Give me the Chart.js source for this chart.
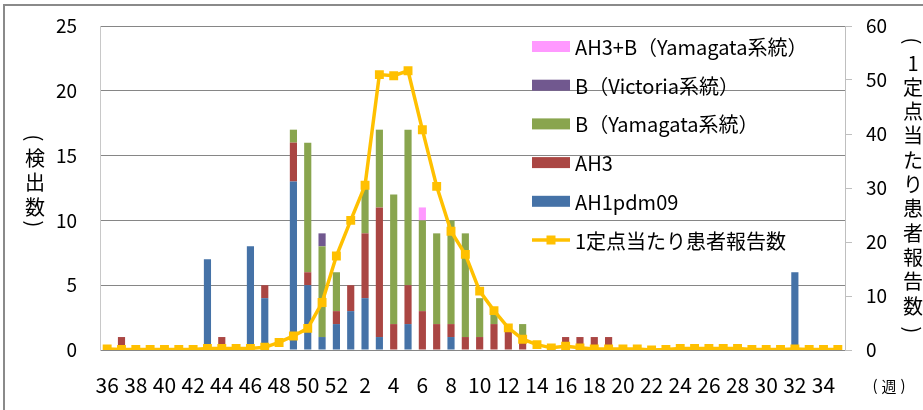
<!DOCTYPE html>
<html>
<head>
<meta charset="utf-8">
<script src="https://cdn.jsdelivr.net/npm/chart.js@4/dist/chart.umd.min.js"></script>
<style>
  html, body { margin: 0; padding: 0; background: #fff; }
  #wrap { width: 923px; height: 410px; position: relative; }
</style>
</head>
<body>
<div id="wrap"><canvas id="c"></canvas></div>
<script>
// Influenza detections by week (left axis) + reports per sentinel site (right axis)

const FONT = "'Noto Sans CJK JP', 'Noto Sans', sans-serif";

const weeks = [
  '36','37','38','39','40','41','42','43','44','45','46','47','48','49','50','51','52',
  '1','2','3','4','5','6','7','8','9','10','11','12','13','14','15','16','17','18','19','20',
  '21','22','23','24','25','26','27','28','29','30','31','32','33','34','35'
];

//                 36 37 38 39 40 41 42 43 44 45 46 47 48 49 50 51 52  1  2  3  4  5  6  7  8  9 10 11 12 13 14 15 16 17 18 19 20 21 22 23 24 25 26 27 28 29 30 31 32 33 34 35
const ah1pdm09 =  [ 0, 0, 0, 0, 0, 0, 0, 7, 0, 0, 8, 4, 0,13, 5, 1, 2, 3, 4, 1, 0, 2, 0, 0, 1, 0, 0, 0, 0, 0, 0, 0, 0, 0, 0, 0, 0, 0, 0, 0, 0, 0, 0, 0, 0, 0, 0, 0, 6, 0, 0, 0];
const ah3 =       [ 0, 1, 0, 0, 0, 0, 0, 0, 1, 0, 0, 1, 0, 3, 1, 0, 1, 2, 5,10, 2, 3, 3, 2, 1, 1, 1, 2, 2, 1, 0, 0, 1, 1, 1, 1, 0, 0, 0, 0, 0, 0, 0, 0, 0, 0, 0, 0, 0, 0, 0, 0];
const bYamagata = [ 0, 0, 0, 0, 0, 0, 0, 0, 0, 0, 0, 0, 0, 1,10, 7, 3, 0, 4, 6,10,12, 7, 7, 8, 8, 3, 1, 0, 1, 0, 0, 0, 0, 0, 0, 0, 0, 0, 0, 0, 0, 0, 0, 0, 0, 0, 0, 0, 0, 0, 0];
const bVictoria = [ 0, 0, 0, 0, 0, 0, 0, 0, 0, 0, 0, 0, 0, 0, 0, 1, 0, 0, 0, 0, 0, 0, 0, 0, 0, 0, 0, 0, 0, 0, 0, 0, 0, 0, 0, 0, 0, 0, 0, 0, 0, 0, 0, 0, 0, 0, 0, 0, 0, 0, 0, 0];
const ah3b =      [ 0, 0, 0, 0, 0, 0, 0, 0, 0, 0, 0, 0, 0, 0, 0, 0, 0, 0, 0, 0, 0, 0, 1, 0, 0, 0, 0, 0, 0, 0, 0, 0, 0, 0, 0, 0, 0, 0, 0, 0, 0, 0, 0, 0, 0, 0, 0, 0, 0, 0, 0, 0];

const perSite = [
  0.2, 0.1, 0.1, 0.1, 0.1, 0.1, 0.1, 0.3, 0.3, 0.3, 0.3, 0.5, 1.4, 2.6, 4.0, 8.8, 17.4,
  24.0, 30.5, 51.0, 50.8, 51.7, 40.8, 30.3, 22.0, 17.7, 10.9, 7.3, 4.1, 2.0, 1.0, 0.4,
  0.7, 0.4, 0.2, 0.2, 0.2, 0.2, 0.0, 0.1, 0.3, 0.3, 0.3, 0.3, 0.3, 0.1, 0.1, 0.1, 0.2,
  0.1, 0.1, 0.1
];

const leftTicks = [0, 5, 10, 15, 20, 25];
const rightTicks = [0, 10, 20, 30, 40, 50, 60];

const COLORS = {
  ah1: '#4572A7',
  ah3: '#AA4643',
  bYam: '#89A54E',
  bVic: '#71588F',
  ah3b: '#FF99FF',
  line: '#FFC000'
};

const bar = (label, data, color) => ({
  type: 'bar', label, data, backgroundColor: color, borderWidth: 0,
  yAxisID: 'y', stack: 's', order: 1,
  barPercentage: 0.5, categoryPercentage: 1.0
});

// legend order as in the picture (top to bottom)
const legendItems = [
  { label: 'AH3+B（Yamagata系統）', color: COLORS.ah3b },
  { label: 'B（Victoria系統）', color: COLORS.bVic },
  { label: 'B（Yamagata系統）', color: COLORS.bYam },
  { label: 'AH3', color: COLORS.ah3 },
  { label: 'AH1pdm09', color: COLORS.ah1 },
  { label: '1定点当たり患者報告数', color: COLORS.line, line: true }
];

// draws a paren turned on its side, like the vertical title in the picture
function sideParen(ctx, ch, x, y) {
  ctx.save();
  ctx.translate(x, y);
  ctx.rotate(Math.PI / 2);
  ctx.fillText(ch, 0, 0);
  ctx.restore();
}

// stacked characters between two sideways parens
function verticalTitle(ctx, text, x, y0, step, gapOpen, gapClose) {
  const chars = [...text];
  sideParen(ctx, '(', x, y0 - gapOpen);
  chars.forEach((ch, i) => ctx.fillText(ch, x, y0 + i * step));
  sideParen(ctx, ')', x, y0 + (chars.length - 1) * step + gapClose);
}

// keep the plot box where the picture has it (ticks padding would push it down)
const fixPad = s => { s.paddingTop = 11; s.paddingBottom = 11; };

const decor = {
  id: 'decor',
  beforeDraw(chart) {
    const ctx = chart.ctx;
    ctx.save();
    ctx.fillStyle = '#fff';
    ctx.fillRect(0, 0, chart.width, chart.height);
    ctx.strokeStyle = '#8a8a8a';
    ctx.lineWidth = 2;
    ctx.beginPath();
    ctx.moveTo(4, chart.height);
    ctx.lineTo(4, 5);
    ctx.lineTo(chart.width, 5);
    ctx.stroke();
    ctx.restore();
  },
  afterDraw(chart) {
    const ctx = chart.ctx;
    ctx.save();
    ctx.fillStyle = '#000';
    ctx.textAlign = 'center';
    ctx.textBaseline = 'middle';
    ctx.font = '20px ' + FONT;

    // vertical axis titles
    verticalTitle(ctx, '検出数', 35, 158, 24.5, 20, 17);
    verticalTitle(ctx, '1定点当たり患者報告数', 913, 63, 24.3, 22, 24);

    // week unit under the right axis
    ctx.font = '15px ' + FONT;
    ctx.fillText('(', 875, 385);
    ctx.fillText('週', 889, 386);
    ctx.fillText(')', 903, 385);

    // legend
    ctx.textAlign = 'left';
    ctx.font = '20px ' + FONT;
    legendItems.forEach((it, i) => {
      const y = 46.5 + i * 38.7;
      if (it.line) {
        ctx.strokeStyle = it.color;
        ctx.lineWidth = 3.5;
        ctx.beginPath();
        ctx.moveTo(532, y);
        ctx.lineTo(570, y);
        ctx.stroke();
        ctx.fillStyle = it.color;
        ctx.fillRect(546.5, y - 4.5, 9, 9);
      } else {
        ctx.fillStyle = it.color;
        ctx.fillRect(532, y - 5.5, 38, 11);
      }
      ctx.fillStyle = '#000';
      ctx.fillText(it.label, 575, y + 1);
    });
    ctx.restore();
  }
};

new Chart(document.getElementById('c'), {
  data: {
    labels: weeks,
    datasets: [
      {
        type: 'line', label: '1定点当たり患者報告数', data: perSite,
        yAxisID: 'y2', order: 0,
        borderColor: COLORS.line, backgroundColor: COLORS.line,
        borderWidth: 3.5, pointStyle: 'rect', pointRadius: 6.3,
        pointBorderWidth: 0, tension: 0
      },
      bar('AH1pdm09', ah1pdm09, COLORS.ah1),
      bar('AH3', ah3, COLORS.ah3),
      bar('B（Yamagata系統）', bYamagata, COLORS.bYam),
      bar('B（Victoria系統）', bVictoria, COLORS.bVic),
      bar('AH3+B（Yamagata系統）', ah3b, COLORS.ah3b)
    ]
  },
  options: {
    responsive: true,
    maintainAspectRatio: false,
    animation: false,
    layout: { padding: { top: 26, left: 0, right: 0, bottom: 0 } },
    plugins: { legend: { display: false }, tooltip: { enabled: false } },
    scales: {
      x: {
        stacked: true,
        afterFit: s => { s.height = 60; },
        grid: { display: false, drawTicks: false },
        border: { display: true, color: '#868686' },
        ticks: {
          autoSkip: false, maxRotation: 0, padding: 22,
          color: '#000', font: { family: FONT, size: 21 },
          callback: (v, i) => (i % 2 === 0 ? weeks[i] : '')
        }
      },
      y: {
        position: 'left', stacked: true, min: 0, max: 25,
        afterFit: s => { s.width = 100; fixPad(s); },
        afterBuildTicks: s => { s.ticks = leftTicks.map(v => ({ value: v })); },
        grid: { color: '#868686', drawTicks: false },
        border: { display: true, color: '#c8c8c8' },
        ticks: { padding: 23, color: '#000', font: { family: FONT, size: 19 } }
      },
      y2: {
        position: 'right', min: 0, max: 60,
        afterFit: s => { s.width = 78; fixPad(s); },
        afterBuildTicks: s => { s.ticks = rightTicks.map(v => ({ value: v })); },
        grid: { drawOnChartArea: false, drawTicks: true, tickLength: 7, color: '#bfbfbf' },
        border: { display: true, color: '#bfbfbf' },
        ticks: { padding: 14, color: '#000', font: { family: FONT, size: 19 } }
      }
    }
  },
  plugins: [decor]
});
</script>
</body>
</html>
